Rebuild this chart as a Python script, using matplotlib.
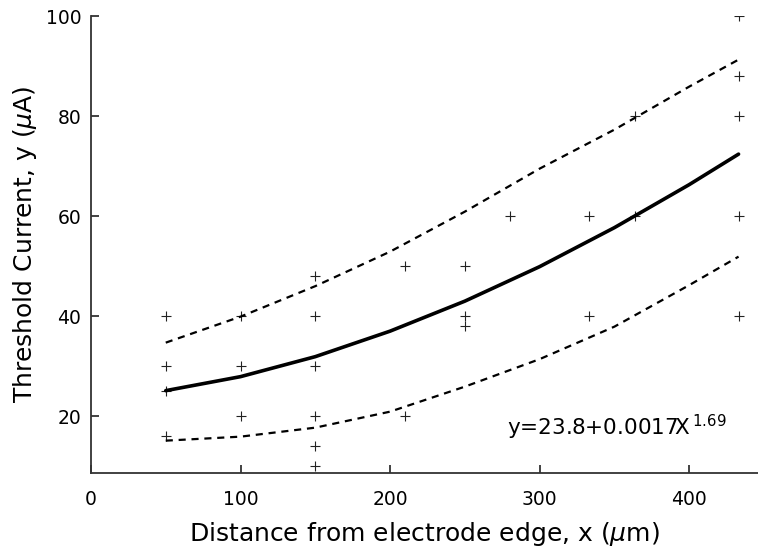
import numpy as np
import matplotlib
matplotlib.use("Agg")
import matplotlib.pyplot as plt

# measured points (distance um, threshold uA)
dist = [50, 50, 50, 50,
        100, 100, 100,
        150, 150, 150, 150, 150, 150,
        210, 210,
        250, 250, 250,
        280,
        333, 333,
        364, 364,
        433, 433, 433, 433, 433]
thresh = [40, 30, 25, 16,
          40, 30, 20,
          48, 40, 30, 20, 14, 10,
          50, 20,
          50, 40, 38,
          60,
          60, 40,
          80, 60,
          100, 88, 80, 60, 40]

# fit curve and bands
curve_x = [50, 100, 150, 200, 250, 300, 350, 400, 433]
fit_y = [25.1, 27.9, 31.9, 37.0, 43.0, 49.9, 57.7, 66.3, 72.4]
upper_y = [34.7, 39.9, 46.0, 52.9, 60.9, 69.5, 77.3, 85.9, 91.3]
lower_y = [15.1, 15.9, 17.7, 20.9, 25.9, 31.4, 37.9, 46.2, 51.9]

xticks = [0, 100, 200, 300, 400]
yticks = [20, 40, 60, 80, 100]

fig = plt.figure(figsize=(7.58, 5.56), dpi=100)
ax = fig.add_axes([0.120, 0.149, 0.880, 0.822])

ax.plot(dist, thresh, linestyle="none", marker="+", markersize=7.5,
        markeredgewidth=0.8, color="#222222")
ax.plot(curve_x, fit_y, color="black", lw=2.6, solid_capstyle="round")
ax.plot(curve_x, upper_y, color="black", lw=1.6, dashes=(3.2, 2.6))
ax.plot(curve_x, lower_y, color="black", lw=1.6, dashes=(3.2, 2.6))

ax.text(278, 16.2, r"y=23.8+0.0017X$^{\,1.69}$", fontsize=15.5, ha="left",
        va="baseline")

ax.set_xlim(0, 446)
ax.set_ylim(8.6, 100)
ax.set_xticks(xticks)
ax.set_yticks(yticks)
ax.spines["top"].set_visible(False)
ax.spines["right"].set_visible(False)
for s in ("left", "bottom"):
    ax.spines[s].set_linewidth(1.3)
    ax.spines[s].set_color("#333333")
ax.tick_params(axis="both", direction="in", length=6, width=1.3,
               labelsize=13.5, color="#333333")
ax.tick_params(axis="x", pad=12)
ax.tick_params(axis="y", pad=7)

ax.set_xlabel(r"Distance from electrode edge, x ($\mu$m)", fontsize=18,
              labelpad=8)
ax.set_ylabel(r"Threshold Current, y ($\mu$A)", fontsize=18, labelpad=5)

fig.savefig("out.png", dpi=100)
